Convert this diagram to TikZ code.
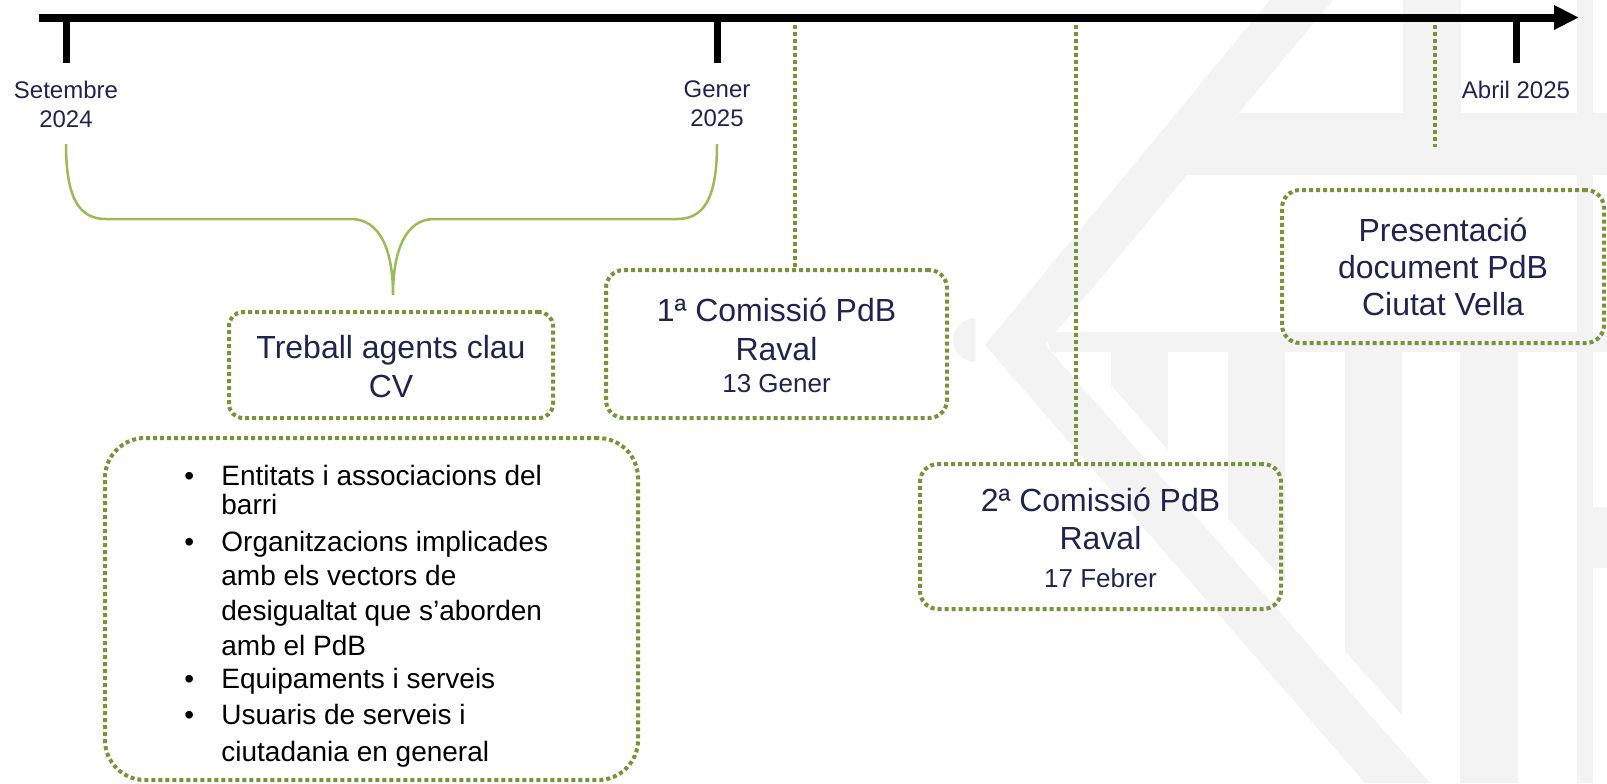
\documentclass[tikz,border=0pt]{standalone}
\usepackage{fontspec}
\setmainfont{Liberation Sans}
\usetikzlibrary{arrows.meta}
\definecolor{navy}{HTML}{22224E}
\definecolor{olive}{HTML}{77933C}
\definecolor{leaf}{HTML}{9BBB59}
\definecolor{wm}{HTML}{F3F3F3}
\tikzset{
  tickline/.style={line width=3.5pt, line cap=butt},
  conn/.style={draw=olive, line width=2pt, dash pattern=on 2pt off 1.5pt},
  dotbox/.style={draw=olive, line width=2pt, dash pattern=on 2pt off 1.5pt, rounded corners=9pt, inner sep=0pt},
  datelbl/.style={text=navy, font=\fontsize{12}{14.5}\selectfont, anchor=base, inner sep=0pt},
  titlelbl/.style={text=navy, font=\fontsize{16}{18.5}\selectfont, anchor=base, inner sep=0pt},
  daylbl/.style={text=navy, font=\fontsize{13}{15}\selectfont, anchor=base, inner sep=0pt},
  itemlbl/.style={text=black, font=\fontsize{14}{17}\selectfont, anchor=base west, inner sep=0pt},
  bracepath/.style={draw=leaf, line width=1.25pt},
  wmark/.style={fill=wm, draw=none}
}
\begin{document}
\begin{tikzpicture}[x=0.5pt,y=-0.5pt]
\useasboundingbox (0,0) rectangle (1607,783);
% watermark
\begin{scope}
\clip (0,0) rectangle (1607,783);
\path[wmark] (1270,0) -- (1333,0) -- (1045,345) -- (1430,783) -- (1365,783) -- (985,345) -- cycle;
\path[wmark] (975,362) arc[start angle=90,end angle=270,radius=22] -- cycle;
\path[wmark] (1239,113) -- (1607,113) -- (1607,175) -- (1187,175) -- cycle;
\path[wmark] (1403,0) rectangle (1461,113);
\path[wmark] (1577,0) rectangle (1593,783);
\path[wmark] (1593,507) rectangle (1607,568);
\path[wmark] (1045,332) -- (1607,332) -- (1607,352) -- (1051,352) -- cycle;
\path[wmark] (1111,352) -- (1168,352) -- (1168,450) -- (1111,385) -- cycle;
\path[wmark] (1228,352) -- (1285,352) -- (1285,582) -- (1228,518) -- cycle;
\path[wmark] (1345,352) -- (1402,352) -- (1402,715) -- (1345,651) -- cycle;
\path[wmark] (1460,352) rectangle (1518,783);
\end{scope}
% timeline
\coordinate (tl0) at (39,17.5);
\coordinate (tl1) at (1579,17.5);
\draw[line width=4pt, -{Triangle[length=12.5pt,width=11.5pt]}] (tl0) -- (tl1);
\coordinate (t1) at (66,17.5);  \coordinate (t1b) at (66,63);
\coordinate (t2) at (717,17.5); \coordinate (t2b) at (717,63);
\coordinate (t3) at (1516,17.5); \coordinate (t3b) at (1516,63);
\draw[tickline] (t1) -- (t1b);
\draw[tickline] (t2) -- (t2b);
\draw[tickline] (t3) -- (t3b);
% date labels
\node[datelbl] (s1a) at (66,98) {Setembre};
\node[datelbl] (s1b) at (66,127) {2024};
\node[datelbl] (s2a) at (717,97) {Gener};
\node[datelbl] (s2b) at (717,126) {2025};
\node[datelbl] (s3a) at (1516,98) {Abril 2025};
% brace
\coordinate (bl) at (66,144);
\coordinate (br) at (717,144);
\coordinate (bt) at (393,295);
\draw[bracepath] (bl) .. controls (66,200) and (80,219) .. (106,219) -- (351,219)
  .. controls (380,219) and (393,250) .. (bt)
  .. controls (393,250) and (406,219) .. (434,219) -- (677,219)
  .. controls (703,219) and (717,200) .. (br);
% boxes
\node[dotbox, rounded corners=7pt, minimum width=162pt, minimum height=53pt] (tb) at (391,365) {};
\node[dotbox, minimum width=170.5pt, minimum height=74pt] (c1) at (776.5,344) {};
\node[dotbox, minimum width=180.5pt, minimum height=72.5pt] (c2) at (1100.5,536.5) {};
\node[dotbox, minimum width=161pt, minimum height=76.5pt] (c3) at (1443,266.5) {};
\node[dotbox, rounded corners=20pt, minimum width=266.5pt, minimum height=171pt] (lb) at (371.5,609) {};
% connectors
\coordinate (d1) at (795,25);
\coordinate (d2) at (1076,25);
\coordinate (d3) at (1435,25);
\coordinate (d3b) at (1435,147);
\draw[conn] (d1) -- (d1 |- c1.north);
\draw[conn] (d2) -- (d2 |- c2.north);
\draw[conn] (d3) -- (d3b);
% box texts
\node[titlelbl] (tb1) at (391,358) {Treball agents clau};
\node[titlelbl] (tb2) at (391,397) {CV};
\node[titlelbl] (c1a) at (776.5,321) {1ª Comissió PdB};
\node[titlelbl] (c1b) at (776.5,360) {Raval};
\node[daylbl] (c1c) at (776.5,392) {13 Gener};
\node[titlelbl] (c2a) at (1100.5,511) {2ª Comissió PdB};
\node[titlelbl] (c2b) at (1100.5,549) {Raval};
\node[daylbl] (c2c) at (1100.5,587) {17 Febrer};
\node[titlelbl] (c3a) at (1443,241) {Presentació};
\node[titlelbl] (c3b) at (1443,278) {document PdB};
\node[titlelbl] (c3c) at (1443,315) {Ciutat Vella};
% bullet list
\node[itemlbl] (p1) at (184,485) {•};
\node[itemlbl] (p2) at (184,551) {•};
\node[itemlbl] (p3) at (184,688) {•};
\node[itemlbl] (p4) at (184,724) {•};
\node[itemlbl] (l1) at (221,485) {Entitats i associacions del};
\node[itemlbl] (l2) at (221,514) {barri};
\node[itemlbl] (l3) at (221,551) {Organitzacions implicades};
\node[itemlbl] (l4) at (221,585) {amb els vectors de};
\node[itemlbl] (l5) at (221,620) {desigualtat que s’aborden};
\node[itemlbl] (l6) at (221,655) {amb el PdB};
\node[itemlbl] (l7) at (221,688) {Equipaments i serveis};
\node[itemlbl] (l8) at (221,724) {Usuaris de serveis i};
\node[itemlbl] (l9) at (221,761) {ciutadania en general};
\end{tikzpicture}
\end{document}
